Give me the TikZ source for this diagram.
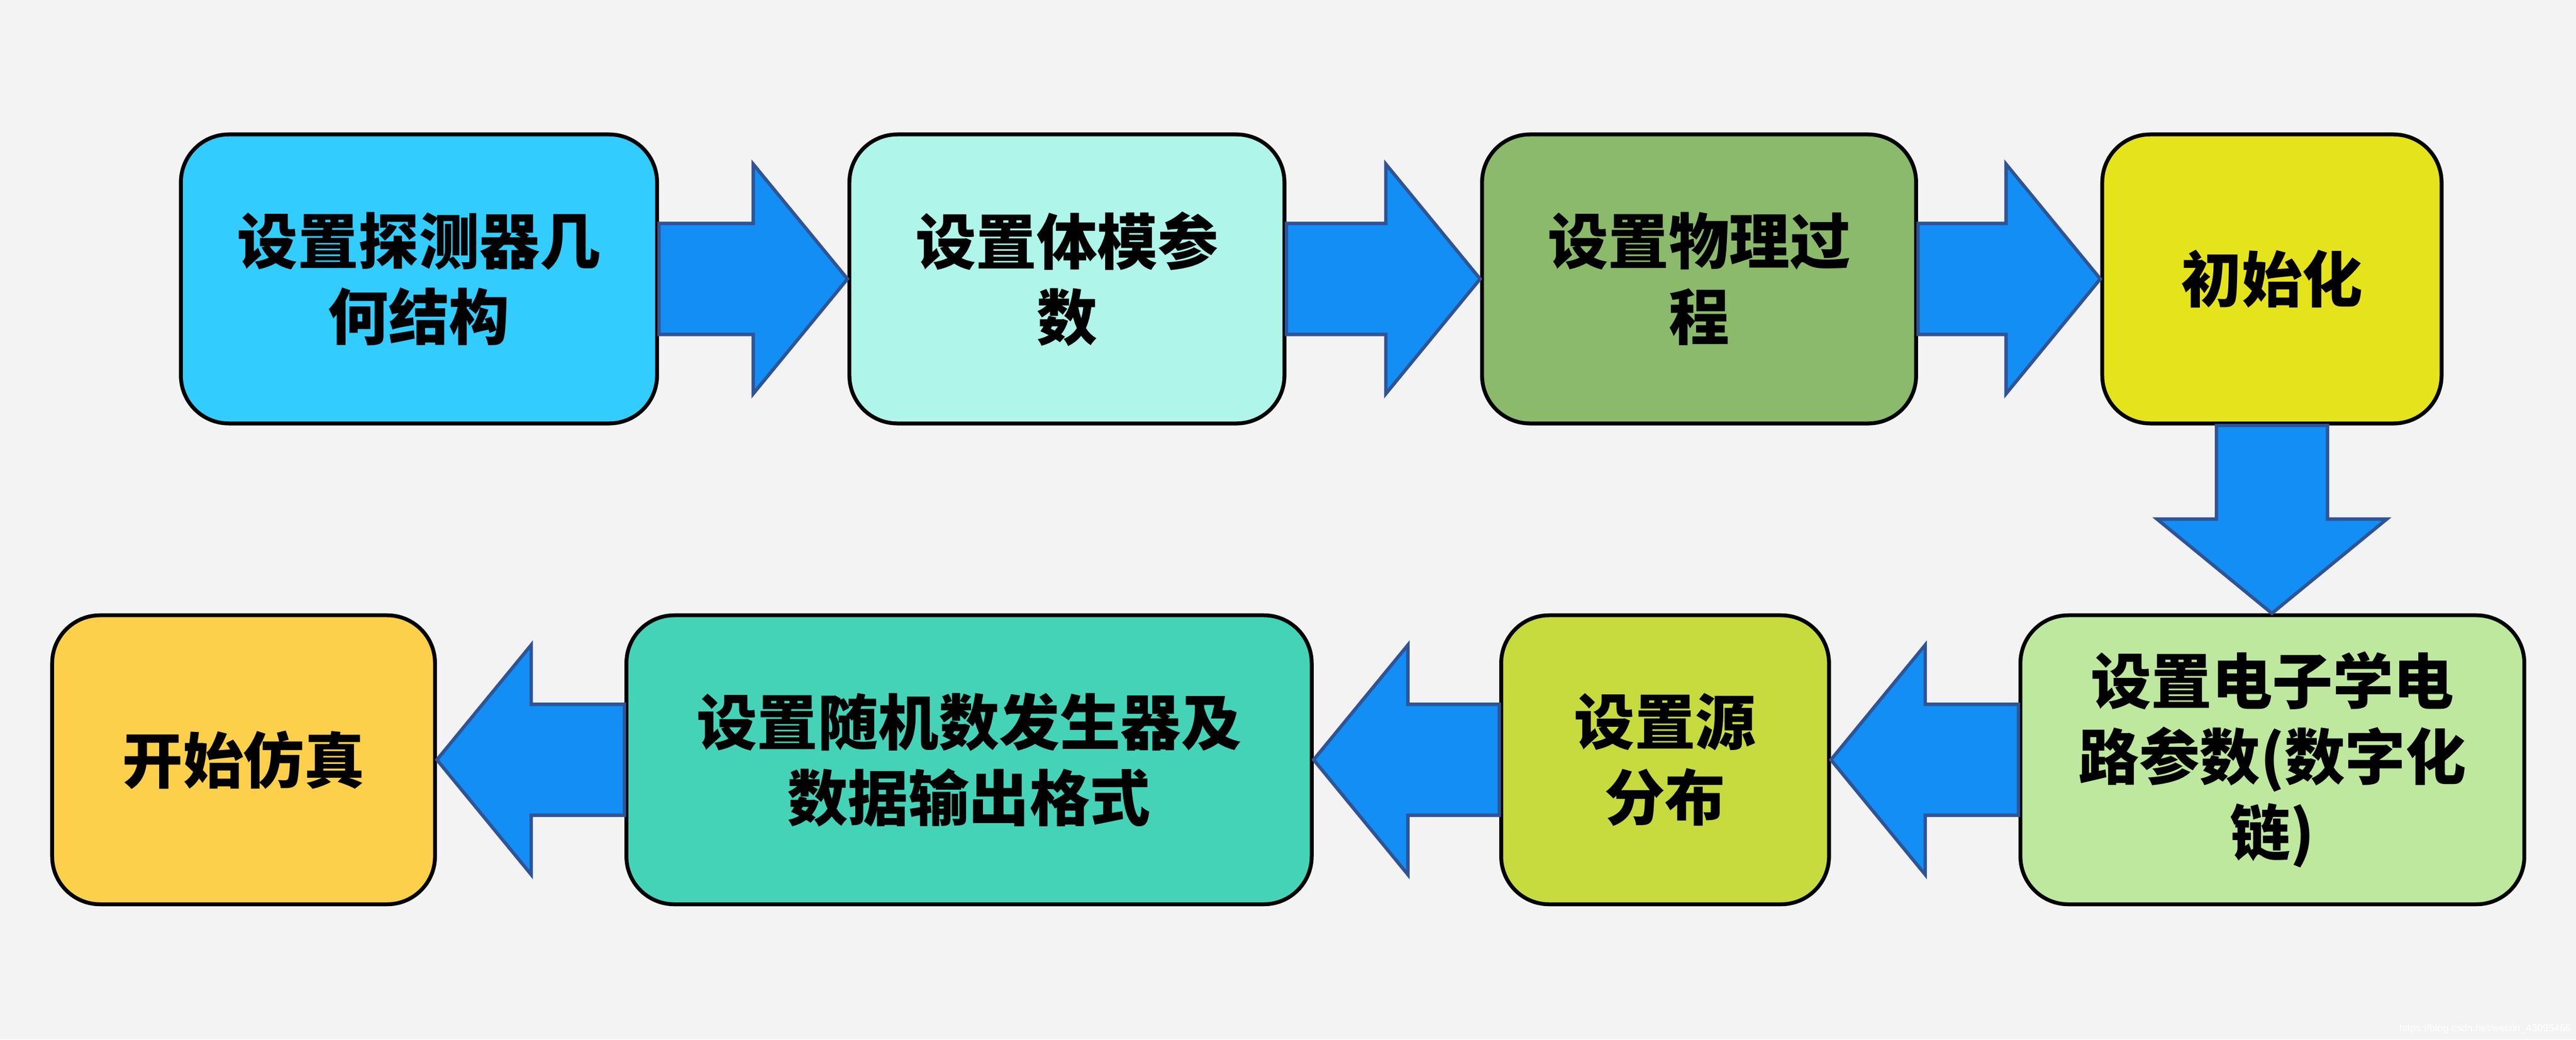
\documentclass[tikz,border=0pt]{standalone}
\usepackage{fontspec}
\newfontfamily\cjk{Noto Sans CJK SC}
\newfontfamily\marksans{Liberation Sans}
\usetikzlibrary{calc}
\definecolor{paper}{HTML}{F3F3F3}
\definecolor{arrowblue}{HTML}{128EF5}
\definecolor{arrowline}{HTML}{2F5496}
\definecolor{cgeom}{HTML}{33CCFF}
\definecolor{cbulk}{HTML}{AFF5EA}
\definecolor{cphys}{HTML}{8BBA6B}
\definecolor{cinit}{HTML}{E5E31B}
\definecolor{celec}{HTML}{BEE89D}
\definecolor{csource}{HTML}{C7DA3E}
\definecolor{crand}{HTML}{45D3B8}
\definecolor{cstart}{HTML}{FCD04B}
% fat block arrow from #2 to #3, pointing at angle #1
\newcommand{\fatarrow}[3]{%
  \draw[flow] let \p1=(#2), \p2=(#3), \n1={veclen(\x2-\x1,\y2-\y1)} in
    [shift={(\p1)}, rotate=#1]
    (0,1.16cm) -- ({\n1-1.97cm},1.16cm) -- ({\n1-1.97cm},2.4cm) -- ({\n1},0cm)
    -- ({\n1-1.97cm},-2.4cm) -- ({\n1-1.97cm},-1.16cm) -- (0,-1.16cm) -- cycle;}

\begin{document}
\begin{tikzpicture}
    [stage/.style={draw=black, line width=2.3pt, rounded corners=1cm, fill=#1,
      minimum height=6.04cm, align=center, inner sep=0pt,
      font=\cjk\bfseries\fontsize{36}{45}\selectfont},
    flow/.style={draw=arrowline, fill=arrowblue, line width=2pt}]

\fill[paper] (0,0) rectangle (53.83,21.73);
\useasboundingbox (0,0) rectangle (53.83,21.73);

% first row
\node[stage=cgeom, minimum width=9.95cm] (geom) at (8.755,15.9) {设置探测器几\\何结构};
\node[stage=cbulk, minimum width=9.09cm] (bulk) at (22.295,15.9) {设置体模参\\数};
\node[stage=cphys, minimum width=9.07cm] (phys) at (35.505,15.9) {设置物理过\\程};
\node[stage=cinit, minimum width=7.09cm] (init) at (47.475,15.9) {初始化};

% second row
\node[stage=celec, minimum width=10.53cm] (elec) at (47.485,5.85) {设置电子学电\\路参数(数字化\\链)};
\node[stage=csource, minimum width=6.85cm] (source) at (34.795,5.85) {设置源\\分布};
\node[stage=crand, minimum width=14.32cm] (rand) at (20.25,5.85) {设置随机数发生器及\\数据输出格式};
\node[stage=cstart, minimum width=8cm] (start) at (5.09,5.85) {开始仿真};

\fatarrow{0}{geom.east}{bulk.west}
\fatarrow{0}{bulk.east}{phys.west}
\fatarrow{0}{phys.east}{init.west}
\fatarrow{-90}{init.south}{elec.north}
\fatarrow{180}{elec.west}{source.east}
\fatarrow{180}{source.west}{rand.east}
\fatarrow{180}{rand.west}{start.east}

\node[anchor=south east, text=white, inner sep=0pt,
  font=\marksans\fontsize{6}{6}\selectfont] (mark) at (53.73,0.12) {https://blog.csdn.net/weixin\_43095466};
\end{tikzpicture}
\end{document}
